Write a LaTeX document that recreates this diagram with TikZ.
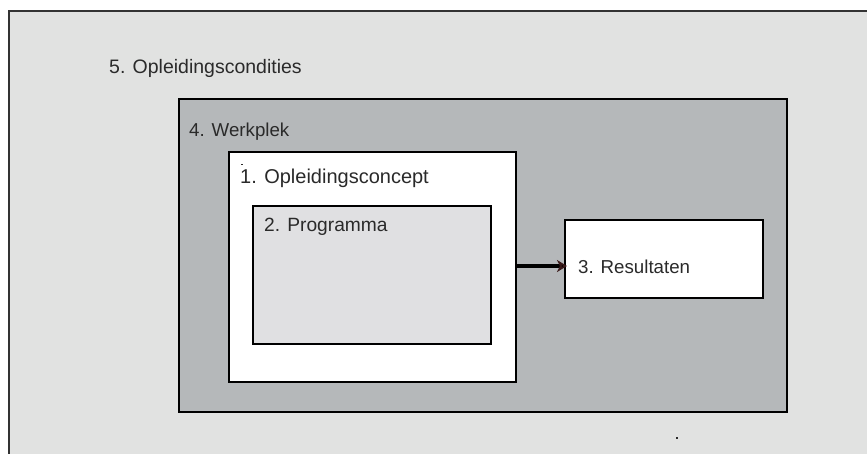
\documentclass[tikz,border=0pt]{standalone}
\usepackage{fontspec}
\setmainfont{Liberation Sans}
\usetikzlibrary{arrows.meta}
\definecolor{outerfill}{HTML}{E1E2E1}
\definecolor{workfill}{HTML}{B5B8BA}
\definecolor{progfill}{HTML}{E0E0E2}
\definecolor{txt}{HTML}{2A2A2A}
\definecolor{tipcol}{HTML}{3A1A1A}
\tikzset{
  lbl/.style={anchor=base west, inner sep=0pt, text=txt},
  boxline/.style={draw=black, line width=1.5pt},
  dotmark/.style={fill=txt, draw=none, inner sep=0pt, minimum width=2pt, minimum height=2pt}
}
\begin{document}
\begin{tikzpicture}[x=1pt, y=-1pt]
\useasboundingbox (0,0) rectangle (867,453);
\fill[white] (0,0) rectangle (867,453);
\begin{scope}
\clip (0,0) rectangle (867,453);
\draw[fill=outerfill, draw=black!80, line width=1.2pt] (9,11) rectangle (880,470);
\end{scope}
\node[lbl, font=\fontsize{19.5}{23}\selectfont] (c5) at (109,73) {5. Opleidingscondities};
% Werkplek
\draw[fill=workfill, draw=black, line width=1.8pt] (179,99) rectangle (787,412);
\node[lbl, font=\fontsize{18.7}{22}\selectfont] (c4) at (189,136) {4. Werkplek};
% Opleidingsconcept
\draw[fill=white, boxline] (229,152) rectangle (516,382);
\coordinate (oc) at (516,266);
\node[lbl, font=\fontsize{20}{24}\selectfont] (c1) at (240,183) {1. Opleidingsconcept};
\node[dotmark, minimum width=2pt, minimum height=1pt] (d1) at (242,164) {};
% Programma
\draw[fill=progfill, boxline] (253,206) rectangle (491,344);
\node[lbl, font=\fontsize{19.2}{23}\selectfont] (c2) at (264,231) {2. Programma};
% Resultaten
\draw[fill=white, boxline] (565,220) rectangle (763,298);
\coordinate (rs) at (567,266);
\node[lbl, font=\fontsize{18.7}{22}\selectfont] (c3) at (578,273) {3. Resultaten};
% arrow
\draw[line width=4.5pt, black, -{Stealth[length=10pt,width=12pt,inset=3pt,fill=black,color=tipcol]}] (oc) -- (rs);
% stray dot
\node[dotmark] (d2) at (677,438) {};
\end{tikzpicture}
\end{document}
